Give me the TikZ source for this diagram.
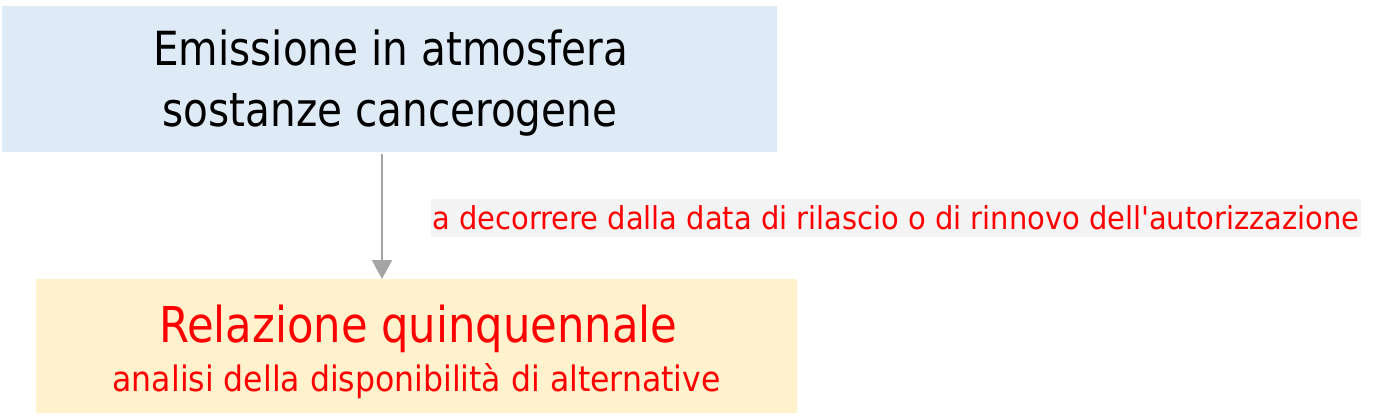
\documentclass[tikz,border=0pt]{standalone}
\usepackage{fontspec}
\setmainfont{DejaVu Sans Condensed}[Ligatures=TeXOff]
\usetikzlibrary{arrows.meta}
\definecolor{boxblue}{HTML}{DEEBF7}
\definecolor{boxyellow}{HTML}{FFF2CC}
\definecolor{lblgray}{HTML}{F4F4F4}
\definecolor{arrgray}{HTML}{A5A5A5}
\definecolor{txtred}{HTML}{FF0000}
\newcommand\fitline[3]{\resizebox{#1pt}{\height}{\fontsize{#2}{#2}\selectfont #3}}
\begin{document}
\begin{tikzpicture}[x=1pt,y=-1pt,
  panel/.style={draw=none, inner sep=0pt, outer sep=0pt},
  txt/.style={inner sep=0pt, outer sep=0pt, anchor=base},
  conn/.style={draw=arrgray, line width=2.2pt, shorten <=2pt, -{Triangle[width=20pt,length=19pt]}}]
\useasboundingbox (0,0) rectangle (1400,420);
\node[panel, fill=boxblue, minimum width=775pt, minimum height=146pt] (top) at (389.5,79) {};
\node[panel, fill=boxyellow, minimum width=761pt, minimum height=134pt] (bot) at (416.5,346) {};
\node[txt] (t1) at (390.8,65.5) {\fitline{475}{47}{Emissione in atmosfera}};
\node[txt] (t2) at (390,126.5) {\fitline{454.6}{47}{sostanze cancerogene}};
\node[txt, text=txtred] (r1) at (418.5,342.7) {\fitline{518.4}{49.4}{Relazione quinquennale}};
\node[txt, text=txtred] (r2) at (416.7,391.7) {\fitline{608}{35}{analisi della disponibilità di alternative}};
\node[panel, fill=lblgray, text=txtred, minimum width=930pt, minimum height=38pt] (lab) at (896,218) {\fitline{927}{31.5}{a decorrere dalla data di rilascio o di rinnovo dell'autorizzazione}};
\coordinate (ax) at (382,0);
\draw[conn] (top.south -| ax) -- (bot.north -| ax);
\end{tikzpicture}
\end{document}
